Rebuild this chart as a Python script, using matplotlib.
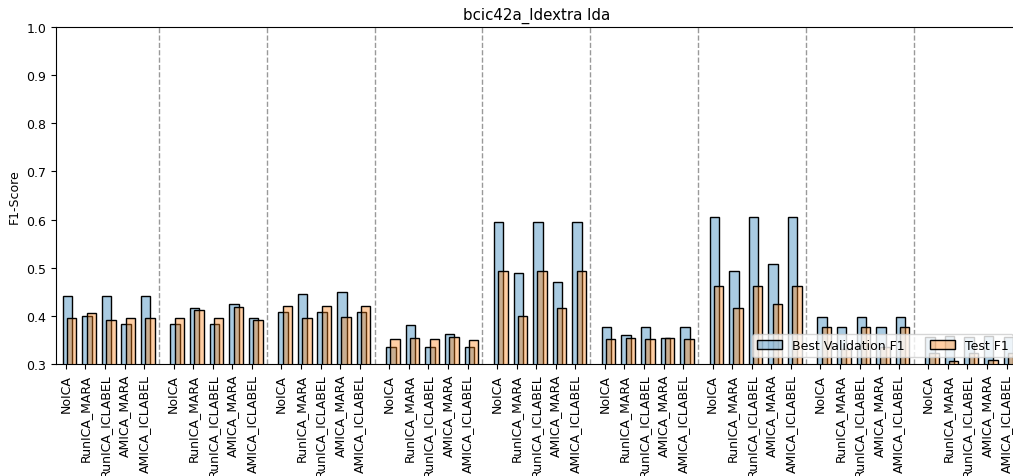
import numpy as np
import matplotlib
matplotlib.use("Agg")
import matplotlib.pyplot as plt
from matplotlib.colors import to_rgba

plt.rcParams["font.size"] = 9

# Preprocessing pipelines, repeated for every fold/subject block
pipelines = ["NoICA", "RunICA_MARA", "RunICA_ICLABEL", "AMICA_MARA", "AMICA_ICLABEL"]
n_blocks = 9

best_val_f1 = [
    0.442, 0.400, 0.442, 0.383, 0.442,
    0.383, 0.417, 0.383, 0.425, 0.396,
    0.407, 0.446, 0.407, 0.449, 0.407,
    0.335, 0.380, 0.335, 0.363, 0.335,
    0.594, 0.490, 0.594, 0.470, 0.594,
    0.376, 0.360, 0.376, 0.355, 0.376,
    0.606, 0.494, 0.606, 0.507, 0.606,
    0.397, 0.376, 0.397, 0.376, 0.397,
    0.356, 0.358, 0.356, 0.358, 0.356,
]
test_f1 = [
    0.395, 0.406, 0.391, 0.395, 0.395,
    0.395, 0.412, 0.395, 0.419, 0.391,
    0.421, 0.396, 0.421, 0.398, 0.421,
    0.351, 0.355, 0.351, 0.357, 0.349,
    0.494, 0.400, 0.494, 0.416, 0.494,
    0.351, 0.355, 0.351, 0.355, 0.351,
    0.461, 0.416, 0.461, 0.424, 0.461,
    0.376, 0.331, 0.376, 0.335, 0.376,
    0.323, 0.307, 0.323, 0.309, 0.323,
]

n_pipe = len(pipelines)
x = np.array([b * (n_pipe + 0.5) + i for b in range(n_blocks) for i in range(n_pipe)])
labels = pipelines * n_blocks

fig = plt.figure(figsize=(10.13, 4.77), dpi=100)
W, H = 1013, 477
ax = fig.add_axes([56 / W, (H - 365) / H, (1016.5 - 56) / W, (365 - 28) / H])

ax.bar(x + 0.08, best_val_f1, width=0.48, color=to_rgba("#1f77b4", 0.38),
       edgecolor="black", linewidth=1, label="Best Validation F1")
ax.bar(x + 0.30, test_f1, width=0.48, color=to_rgba("#ff7f0e", 0.38),
       edgecolor="black", linewidth=1, label="Test F1")

# separators between blocks
for b in range(1, n_blocks):
    ax.axvline(b * (n_pipe + 0.5) - 0.75, color="gray", linestyle="--", linewidth=1, alpha=0.8)

ax.set_xticks(x)
ax.set_xticklabels(labels, rotation=90)
ax.set_xlim(-0.5, x[-1] + 0.5)
ax.set_ylim(0.3, 1.0)
ax.set_ylabel("F1-Score")
ax.set_title("bcic42a_ldextra lda", fontsize=10.8)

ax.legend(ncol=2, loc="lower left", bbox_to_anchor=(752 / W, (H - 358) / H),
          bbox_transform=fig.transFigure, borderaxespad=0)

fig.savefig("out.png", dpi=100)
